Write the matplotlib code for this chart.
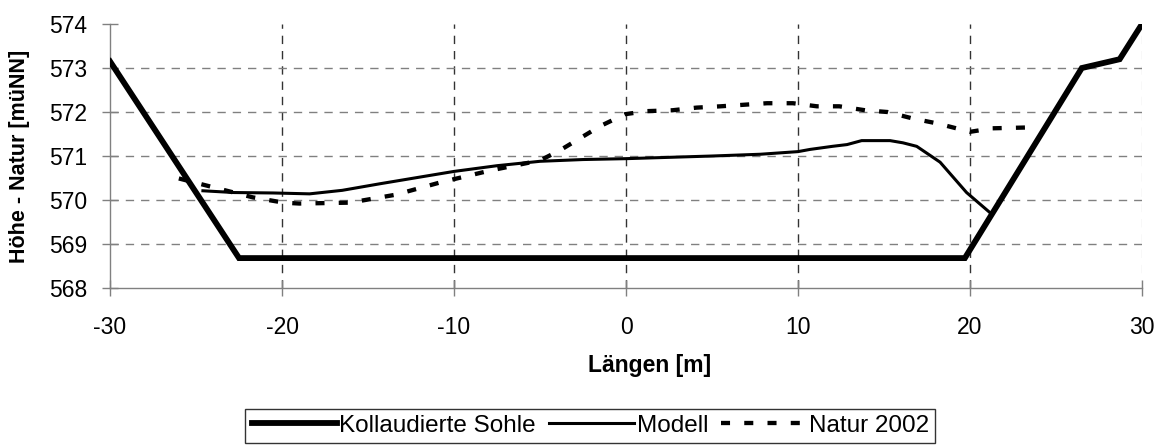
import numpy as np
import matplotlib.pyplot as plt

plt.rcParams['font.family'] = ['Liberation Sans', 'DejaVu Sans']
plt.rcParams['axes.unicode_minus'] = False  # "-30" mit normalem Bindestrich

# Kollaudierte Sohle
sohle_x = [-30.0, -22.5, 19.7, 26.5, 28.7, 30.0]
sohle_y = [573.15, 568.68, 568.68, 573.0, 573.2, 574.0]

# Modell
modell_x = [-24.6, -22.8, -20.5, -18.4, -16.5, -14.3, -12.0, -10.0, -7.5, -5.0, -2.5,
            0.0, 2.5, 5.0, 7.8, 10.0, 10.7, 12.0, 12.85, 13.7, 15.35, 16.1, 16.9,
            18.26, 19.8, 21.2]
modell_y = [570.21, 570.17, 570.16, 570.14, 570.22, 570.37, 570.52, 570.65, 570.78,
            570.88, 570.92, 570.94, 570.97, 571.0, 571.04, 571.1, 571.15, 571.22,
            571.26, 571.35, 571.35, 571.3, 571.22, 570.86, 570.17, 569.7]

# Natur 2002
natur_x = [-26.0, -24.8, -21.7, -19.9, -19.0, -16.05, -13.4, -10.8, -7.9, -5.0, -3.84,
           -1.5, -0.06, 1.2, 2.7, 4.1, 5.5, 8.2, 9.7, 11.1, 12.4, 13.9, 15.2, 16.7,
           18.1, 20.0, 21.3, 23.5]
natur_y = [570.49, 570.37, 570.06, 569.94, 569.92, 569.94, 570.12, 570.4, 570.67,
           570.9, 571.13, 571.68, 571.95, 572.02, 572.04, 572.1, 572.13, 572.2, 572.2,
           572.13, 572.13, 572.04, 572.0, 571.85, 571.74, 571.55, 571.63, 571.65]

x_ticks = np.arange(-30, 31, 10)
y_ticks = np.arange(568, 575, 1)

fig = plt.figure(figsize=(11.62, 4.45), dpi=100)
ax = fig.add_axes([0.0947, 0.3528, 0.8881, 0.5932])

# Gitter
for xv in x_ticks[1:-1]:
    ax.axvline(xv, color='#333333', lw=1, dashes=(6, 5), zorder=1)
ax.axvline(x_ticks[-1], color='#dddddd', lw=1, dashes=(6, 5), zorder=1)
for yv in y_ticks[1:-1]:
    ax.axhline(yv, color='#808080', lw=1, dashes=(6, 5), zorder=1)

ax.plot(sohle_x, sohle_y, color='black', lw=4.2, label='Kollaudierte Sohle',
        solid_joinstyle='miter', zorder=3)
ax.plot(modell_x, modell_y, color='black', lw=2.2, label='Modell', zorder=4)
ax.plot(natur_x, natur_y, color='black', lw=3.1, dashes=(2.1, 3.3), label='Natur 2002',
        zorder=4)

ax.set_xlim(-30, 30)
ax.set_ylim(568, 574)
ax.set_xticks(x_ticks)
ax.set_yticks(y_ticks)
ax.tick_params(direction='inout', length=11, width=1, color='#808080',
               labelsize=16.5)
ax.tick_params(axis='y', pad=11)
ax.tick_params(axis='x', pad=15)

for s in ['top', 'right']:
    ax.spines[s].set_visible(False)
for s in ['left', 'bottom']:
    ax.spines[s].set_color('#808080')
    ax.spines[s].set_linewidth(1)

ax.set_xlabel('Längen [m]', fontsize=16.5, fontweight='bold')
ax.set_ylabel('Höhe - Natur [müNN]', fontsize=15.5, fontweight='bold')
ax.xaxis.set_label_coords(0.523, -0.25)
ax.yaxis.set_label_coords(-0.0775, 0.5)

leg = fig.legend(loc='center', bbox_to_anchor=(0.508, 0.043), ncol=3, fontsize=17.5,
                 frameon=True, fancybox=False, handlelength=3.5, handletextpad=0.1,
                 columnspacing=0.55, borderpad=0.25, borderaxespad=0)
leg.get_frame().set_edgecolor('black')
leg.get_frame().set_linewidth(1)

fig.savefig('out.png', dpi=100)
